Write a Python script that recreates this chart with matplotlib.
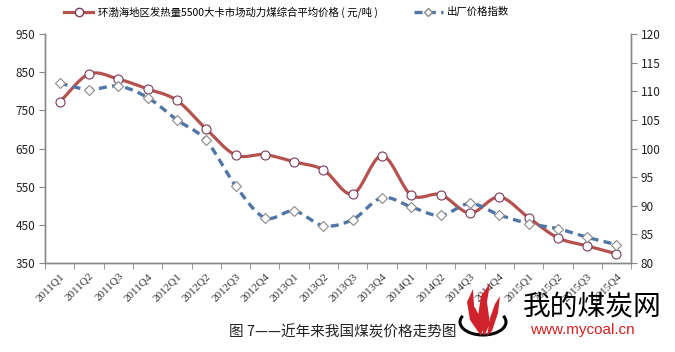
import numpy as np
import matplotlib
matplotlib.use("Agg")
import matplotlib.pyplot as plt
from matplotlib.lines import Line2D
from matplotlib.patches import Polygon, Arc

plt.rcParams['font.family'] = ['Noto Sans CJK SC', 'DejaVu Sans']

quarters = ["2011Q1", "2011Q2", "2011Q3", "2011Q4",
            "2012Q1", "2012Q2", "2012Q3", "2012Q4",
            "2013Q1", "2013Q2", "2013Q3", "2013Q4",
            "2014Q1", "2014Q2", "2014Q3", "2014Q4",
            "2015Q1", "2015Q2", "2015Q3", "2015Q4"]

# 环渤海动力煤综合平均价格（元/吨）
price = [772, 845, 832, 806, 776, 701, 633, 634, 615, 594,
         531, 631, 528, 529, 481, 523, 469, 416, 395, 374]

# 出厂价格指数
index = [111.4, 110.3, 110.9, 108.9, 105.0, 101.4, 93.5, 87.9, 89.1, 86.5,
         87.6, 91.4, 89.8, 88.3, 90.4, 88.4, 86.9, 86.0, 84.5, 83.2]

label_price = "环渤海地区发热量5500大卡市场动力煤综合平均价格 ( 元/吨 )"
label_index = "出厂价格指数"

RED = "#B5524E"
BLUE = "#4F76A6"
W, H = 675, 352


def smooth(x, y, n=20):
    # Catmull-Rom pour imiter les courbes lissées d'Excel
    x = np.asarray(x, float)
    y = np.asarray(y, float)
    px = np.concatenate([[2 * x[0] - x[1]], x, [2 * x[-1] - x[-2]]])
    py = np.concatenate([[2 * y[0] - y[1]], y, [2 * y[-1] - y[-2]]])
    xs, ys = [], []
    t = np.linspace(0, 1, n, endpoint=False)
    for i in range(1, len(px) - 2):
        for p, out in ((px, xs), (py, ys)):
            p0, p1, p2, p3 = p[i - 1], p[i], p[i + 1], p[i + 2]
            out.extend(0.5 * ((2 * p1) + (-p0 + p2) * t
                              + (2 * p0 - 5 * p1 + 4 * p2 - p3) * t ** 2
                              + (-p0 + 3 * p1 - 3 * p2 + p3) * t ** 3))
    xs.append(x[-1])
    ys.append(y[-1])
    return np.array(xs), np.array(ys)


fig = plt.figure(figsize=(6.75, 3.52), dpi=100)
ax = fig.add_axes([0.0667, 0.2528, 0.8683, 0.6506])
ax2 = ax.twinx()

x = np.arange(len(quarters))

sx, sy = smooth(x, price)
ax.plot(sx, sy, color=RED, lw=2.3, solid_capstyle="round", zorder=3)
ax.plot(x, price, ls="none", marker="o", ms=6.5, mfc="white",
        mec="#7A3A5E", mew=0.8, zorder=4)

bx, by = smooth(x, index)
ax2.plot(bx, by, color=BLUE, lw=2.4, ls=(0, (2.4, 1.6)), zorder=3)
ax2.plot(x, index, ls="none", marker="D", ms=5, mfc="white",
         mec="#8A8A8A", mew=0.8, zorder=4)

ax.set_xlim(-0.5, len(quarters) - 0.5)
ax.set_ylim(350, 950)
ax.set_yticks(range(350, 951, 100))
ax2.set_ylim(80, 120)
ax2.set_yticks(range(80, 121, 5))

ax.set_xticks(x)
ax.set_xticklabels(quarters, rotation=45, ha="right", rotation_mode="anchor",
                   fontsize=8, family=["Liberation Serif", "DejaVu Serif"],
                   color="#333333")
ax.set_xticks(np.arange(-0.5, len(quarters)), minor=True)
ax.tick_params(axis="x", which="major", length=0, pad=6)
ax.tick_params(axis="x", which="minor", length=4, color="#888888")

ax.tick_params(axis="y", length=4, color="#888888", labelsize=8.5, labelcolor="#222222", pad=3)
ax2.tick_params(axis="y", length=4, color="#888888", labelsize=8.5, labelcolor="#222222", pad=3)

for a in (ax, ax2):
    a.spines["top"].set_visible(False)
    for s in ("left", "right", "bottom"):
        a.spines[s].set_color("#888888")
        a.spines[s].set_linewidth(1.0)

handles = [
    Line2D([], [], color=RED, lw=2.3, marker="o", ms=6, mfc="white", mec="#7A3A5E"),
    Line2D([], [], color=BLUE, lw=2.4, ls=(0, (2.4, 1.6)), marker="D", ms=4.5,
           mfc="white", mec="#8A8A8A"),
]
fig.legend(handles, [label_price, label_index], loc="center",
           bbox_to_anchor=(0.425, 0.966), ncol=2, frameon=False, fontsize=7.5,
           handlelength=2.8, columnspacing=3.5, handletextpad=0.4)

fig.text(0.508, 0.057, "图 7——近年来我国煤炭价格走势图", ha="center", va="center",
         fontsize=10.5, color="#222222")

# --- filigrane du site (logo approximatif) ---
def to_fig(pts):
    return [(px / W, 1 - py / H) for px, py in pts]

fig.add_artist(Arc((483 / W, 1 - 322 / H), 46 / W, 26 / H, theta1=150, theta2=30,
                   transform=fig.transFigure, color="black", lw=2.2, zorder=9))
flames = [
    [(481, 336), (470, 320), (467, 302), (473, 289), (474, 306), (484, 324)],
    [(484, 336), (478, 316), (481, 296), (490, 283), (487, 302), (490, 324)],
    [(487, 336), (490, 318), (495, 304), (500, 296), (498, 313), (492, 331)],
]
for fl in flames:
    fig.add_artist(Polygon(to_fig(fl), closed=True, transform=fig.transFigure,
                           facecolor="#D0222A", edgecolor="none", zorder=10))

fig.text(0.775, 0.128, "我的煤炭网", ha="left", va="center", fontsize=20,
         color="black", zorder=10)
fig.text(0.785, 0.062, "www.mycoal.cn", ha="left", va="center", fontsize=11,
         color="#D42020", family=["Liberation Sans", "DejaVu Sans"], zorder=10)

fig.savefig("out.png", dpi=100)
